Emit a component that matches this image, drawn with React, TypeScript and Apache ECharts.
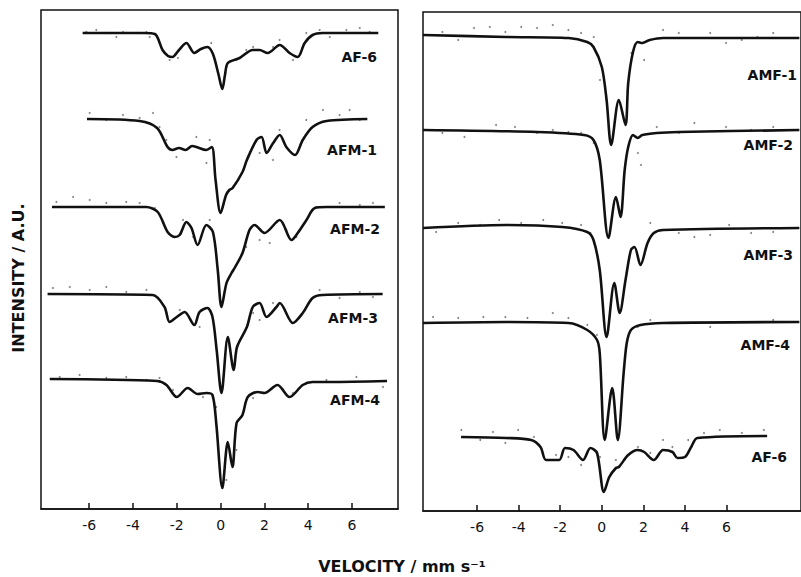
import React, { useEffect, useRef } from "react";
import * as echarts from "echarts";

// Velocity ticks (mm/s)
const tickValues = [-6, -4, -2, 0, 2, 4, 6];

// Left panel fitted spectra: [velocity (mm/s), intensity (A.U.)]
const leftAF6: number[][] = [
  [-6.3, 476], [-3.5, 476], [-3.0, 475], [-2.65, 459], [-2.4, 453], [-2.2, 452], [-1.9, 459],
  [-1.56, 466], [-1.2, 456], [-0.9, 460], [-0.6, 462], [-0.35, 455], [-0.1, 435], [0.08, 420],
  [0.2, 434], [0.33, 446], [0.87, 451], [1.47, 459], [1.78, 459], [2.15, 456], [2.7, 464],
  [3.15, 456], [3.52, 452], [3.84, 466], [4.2, 474], [4.66, 476], [7.2, 476],
];
const leftAFM1: number[][] = [
  [-6.1, 390], [-3.7, 388], [-2.9, 381], [-2.42, 362], [-2.2, 359], [-1.9, 361], [-1.6, 359],
  [-1.3, 363], [-1.1, 362], [-0.65, 359], [-0.4, 362], [-0.23, 329], [0.0, 296], [0.25, 314],
  [0.4, 319], [0.55, 321], [1.0, 337], [1.2, 349], [1.64, 369], [1.87, 372], [2.1, 356],
  [2.4, 366], [2.7, 374], [3.0, 362], [3.4, 354], [3.75, 369], [4.2, 382], [4.84, 388], [6.7, 390],
];
const leftAFM2: number[][] = [
  [-7.7, 302], [-3.4, 302], [-2.87, 297], [-2.42, 277], [-2.1, 272], [-1.87, 274], [-1.56, 287],
  [-1.33, 281], [-1.05, 264], [-0.65, 284], [-0.35, 277], [-0.13, 239], [0.04, 202], [0.27, 226],
  [0.5, 236], [0.64, 241], [1.0, 256], [1.32, 279], [1.55, 284], [2.0, 276], [2.7, 289],
  [3.24, 269], [3.52, 276], [3.92, 289], [4.3, 301], [4.84, 302], [7.5, 302],
];
const leftAFM3: number[][] = [
  [-7.9, 215], [-3.1, 214], [-2.56, 202], [-2.33, 187], [-2.0, 192], [-1.64, 197], [-1.2, 184],
  [-0.96, 197], [-0.6, 201], [-0.37, 192], [-0.18, 159], [0.04, 116], [0.33, 172], [0.6, 139],
  [0.75, 162], [1.2, 182], [1.47, 202], [1.78, 206], [2.1, 192], [2.55, 202], [2.7, 206],
  [3.3, 186], [3.75, 196], [4.2, 211], [4.66, 214], [7.4, 215],
];
const leftAFM4: number[][] = [
  [-7.8, 130], [-2.9, 128], [-2.47, 124], [-2.0, 112], [-1.5, 121], [-1.05, 115], [-0.65, 116],
  [-0.37, 114], [-0.2, 86], [0.08, 21], [0.33, 67], [0.54, 42], [0.73, 86], [1.0, 94],
  [1.24, 112], [1.7, 117], [2.0, 116], [2.6, 124], [3.15, 112], [3.75, 124], [4.2, 127],
  [4.97, 127], [7.6, 128],
];

// Right panel fitted spectra
const rightAMF1: number[][] = [
  [-8.6, 476], [-4.6, 474], [-1.6, 473], [-0.7, 469], [-0.4, 464], [0.0, 444], [0.23, 411],
  [0.45, 366], [0.82, 411], [1.14, 386], [1.27, 428], [1.5, 459], [1.73, 469], [1.95, 468],
  [2.3, 471], [2.95, 473], [9.5, 473],
];
const rightAMF2: number[][] = [
  [-8.6, 381], [-3.1, 379], [-0.86, 376], [-0.4, 371], [-0.1, 351], [0.32, 273], [0.68, 314],
  [0.9, 294], [1.1, 341], [1.27, 364], [1.5, 376], [1.73, 373], [1.95, 376], [2.64, 378],
  [3.7, 379], [9.5, 381],
];
const rightAMF3: number[][] = [
  [-8.6, 283], [-4.6, 286], [-1.9, 284], [-0.7, 279], [-0.4, 271], [-0.1, 241], [0.23, 174],
  [0.6, 228], [0.86, 198], [1.14, 231], [1.4, 261], [1.57, 264], [1.86, 246], [2.2, 268],
  [2.5, 278], [2.95, 281], [9.5, 283],
];
const rightAMF4: number[][] = [
  [-8.6, 188], [-4.6, 189], [-1.6, 188], [-0.7, 181], [-0.23, 171], [-0.1, 158], [0.14, 71],
  [0.5, 123], [0.77, 71], [1.05, 138], [1.2, 168], [1.4, 181], [1.86, 186], [2.95, 188],
  [9.5, 189],
];
const rightAF6: number[][] = [
  [-6.77, 74], [-4.6, 73], [-3.4, 71], [-2.95, 64], [-2.68, 51], [-2.05, 51], [-1.77, 63],
  [-1.36, 61], [-0.9, 51], [-0.55, 63], [-0.23, 58], [0.1, 19], [0.36, 34], [0.68, 43],
  [0.82, 44], [1.27, 56], [1.73, 61], [2.04, 59], [2.5, 51], [2.95, 61], [3.4, 59], [3.64, 53],
  [4.0, 54], [4.3, 64], [4.6, 73], [7.95, 75],
];

const dotsLeftAF6: number[][] = [
  [-6.13, 477], [-5.68, 479], [-5.22, 476], [-4.76, 472], [-4.46, 477], [-3.85, 476], [-3.39, 477],
  [-3.24, 472], [-2.79, 466], [-2.33, 449], [-1.95, 451], [-1.42, 462], [-0.43, 466], [0.26, 442],
  [0.72, 449], [1.17, 459], [1.48, 462], [2.39, 462], [2.69, 469], [3.3, 449], [3.91, 476],
  [4.52, 479], [4.98, 472], [5.74, 479], [6.35, 481], [6.8, 477],
];
const dotsLeftAFM1: number[][] = [
  [-5.98, 396], [-5.22, 389], [-4.46, 394], [-3.7, 391], [-3.09, 396], [-2.79, 382], [-2.48, 369],
  [-2.02, 352], [-1.11, 372], [-0.65, 346], [-0.5, 369], [1.78, 356], [2.39, 349], [2.69, 379],
  [3.91, 389], [4.67, 399], [5.43, 394], [5.89, 399], [6.35, 389],
];
const dotsLeftAFM2: number[][] = [
  [-7.5, 307], [-6.74, 312], [-5.98, 309], [-5.22, 306], [-4.31, 307], [-3.7, 306], [-3.01, 301],
  [-2.63, 286], [-1.72, 289], [-1.26, 272], [-0.5, 289], [0.56, 239], [1.17, 262], [1.78, 269],
  [2.24, 266], [3.0, 279], [3.46, 272], [4.37, 302], [5.43, 306], [6.35, 304], [6.95, 306],
];
const dotsLeftAFM3: number[][] = [
  [-7.66, 221], [-6.89, 222], [-5.98, 219], [-5.22, 222], [-4.31, 217], [-3.39, 219], [-2.86, 211],
  [-1.87, 199], [-0.96, 182], [1.48, 196], [1.78, 189], [2.39, 206], [3.61, 192], [4.52, 219],
  [5.43, 211], [6.35, 217], [6.95, 212],
];
const dotsLeftAFM4: number[][] = [
  [-7.35, 132], [-6.44, 134], [-5.22, 131], [-4.31, 132], [-3.39, 129], [-2.79, 131], [-2.18, 119],
  [-0.81, 112], [-0.2, 102], [0.26, 29], [0.72, 59], [1.48, 111], [2.39, 122], [3.3, 116],
  [3.91, 126], [4.83, 129], [6.2, 132], [7.41, 122],
];
const dotsRightAMF1: number[][] = [
  [-7.67, 479], [-6.91, 471], [-6.15, 483], [-5.39, 484], [-4.64, 479], [-3.88, 484], [-3.12, 483],
  [-2.36, 486], [-1.61, 481], [-1.0, 478], [-0.39, 474], [-0.09, 431], [1.42, 458], [2.03, 451],
  [2.94, 481], [3.7, 478], [5.21, 478], [5.97, 468], [6.73, 471], [7.48, 474], [8.24, 478],
];
const dotsRightAMF2: number[][] = [
  [-7.67, 378], [-6.61, 374], [-5.09, 386], [-4.18, 384], [-3.12, 378], [-2.36, 381], [-1.61, 379],
  [-1.0, 378], [-0.39, 368], [1.73, 358], [1.88, 346], [2.64, 384], [3.7, 378], [4.45, 388],
  [5.97, 384], [7.18, 381], [8.24, 384],
];
const dotsRightAMF3: number[][] = [
  [-7.97, 279], [-6.91, 288], [-5.85, 286], [-4.94, 291], [-3.88, 288], [-2.82, 291], [-1.91, 288],
  [-1.0, 286], [-0.55, 278], [2.33, 288], [2.94, 281], [3.7, 278], [4.45, 274], [5.21, 276],
  [6.12, 286], [7.18, 278], [8.24, 279],
];
const dotsRightAMF4: number[][] = [
  [-8.12, 194], [-6.91, 193], [-5.7, 194], [-4.64, 194], [-3.58, 193], [-2.36, 198], [-1.61, 193],
  [-0.7, 186], [-0.24, 176], [1.73, 184], [2.33, 191], [3.7, 188], [5.21, 184], [6.73, 189],
  [8.24, 191],
];
const dotsRightAF6: number[][] = [
  [-6.76, 81], [-5.85, 71], [-5.24, 79], [-4.64, 68], [-4.03, 81], [-3.27, 74], [-2.82, 58],
  [-2.21, 56], [-1.61, 54], [-1.0, 46], [-0.09, 54], [0.67, 51], [1.73, 64], [2.33, 58],
  [2.94, 71], [3.39, 64], [4.15, 71], [4.91, 78], [5.67, 81], [6.73, 78], [7.79, 81],
];

const leftNames = ["AF-6", "AFM-1", "AFM-2", "AFM-3", "AFM-4"];
const rightNames = ["AMF-1", "AMF-2", "AMF-3", "AMF-4", "AF-6"];

export default function App() {
  const ref = useRef<HTMLDivElement>(null);
  useEffect(() => {
    if (!ref.current) return;
    const chart = echarts.init(ref.current, null, { renderer: "svg" });
    const font = "DejaVu Sans";
    const xAxisBase = (idx: number, min: number, max: number) => ({
      type: "value" as const,
      gridIndex: idx,
      min,
      max,
      splitLine: { show: false },
      axisLine: { show: true, lineStyle: { color: "#111", width: 1.5 } },
      axisTick: {
        show: true,
        inside: true,
        length: 6,
        customValues: tickValues,
        lineStyle: { color: "#111", width: 1.5 },
      },
      axisLabel: {
        show: true,
        customValues: tickValues,
        margin: 9,
        color: "#111",
        fontFamily: font,
        fontSize: 14,
        formatter: (v: number) => (v < 0 ? "-" + Math.abs(v) : String(v)),
      },
    });
    const yAxisBase = (idx: number) => ({
      type: "value" as const,
      gridIndex: idx,
      min: 0,
      max: 499,
      show: false,
    });
    const lineSeries = (data: number[][], idx: number) => ({
      type: "line" as const,
      xAxisIndex: idx,
      yAxisIndex: idx,
      data,
      showSymbol: false,
      smooth: 0.3,
      lineStyle: { color: "#111", width: 2.6 },
      silent: true,
      z: 3,
    });
    const dotSeries = (data: number[][], idx: number) => ({
      type: "scatter" as const,
      xAxisIndex: idx,
      yAxisIndex: idx,
      data,
      symbolSize: 2,
      itemStyle: { color: "#666" },
      silent: true,
      z: 2,
    });
    const leftLabelPos = [
      [377, 57], [377, 150], [380, 229], [378, 318], [380, 400],
    ];
    const rightLabelPos = [
      [797, 75], [793, 145], [793, 255], [790, 345], [787, 457],
    ];
    const labelText = (name: string, p: number[]) => ({
      type: "text" as const,
      x: p[0],
      y: p[1],
      style: {
        text: name,
        fill: "#111",
        font: `bold 14px "${font}"`,
        textAlign: "right",
        textVerticalAlign: "middle",
      },
    });
    chart.setOption({
      animation: false,
      backgroundColor: "#fff",
      grid: [
        { left: 41, top: 10, width: 357, height: 499, show: true, borderColor: "#111", borderWidth: 1.5 },
        { left: 423, top: 12, width: 400, height: 499, show: true, borderColor: "#111", borderWidth: 1.5 },
      ],
      xAxis: [xAxisBase(0, -8.2, 8.1), xAxisBase(1, -8.6, 9.58)],
      yAxis: [yAxisBase(0), yAxisBase(1)],
      series: [
        dotSeries(dotsLeftAF6, 0),
        dotSeries(dotsLeftAFM1, 0),
        dotSeries(dotsLeftAFM2, 0),
        dotSeries(dotsLeftAFM3, 0),
        dotSeries(dotsLeftAFM4, 0),
        dotSeries(dotsRightAMF1, 1),
        dotSeries(dotsRightAMF2, 1),
        dotSeries(dotsRightAMF3, 1),
        dotSeries(dotsRightAMF4, 1),
        dotSeries(dotsRightAF6, 1),
        lineSeries(leftAF6, 0),
        lineSeries(leftAFM1, 0),
        lineSeries(leftAFM2, 0),
        lineSeries(leftAFM3, 0),
        lineSeries(leftAFM4, 0),
        lineSeries(rightAMF1, 1),
        lineSeries(rightAMF2, 1),
        lineSeries(rightAMF3, 1),
        lineSeries(rightAMF4, 1),
        lineSeries(rightAF6, 1),
      ],
      graphic: [
        ...leftNames.map((n, i) => labelText(n, leftLabelPos[i])),
        ...rightNames.map((n, i) => labelText(n, rightLabelPos[i])),
        {
          type: "text",
          x: 18,
          y: 278,
          rotation: Math.PI / 2,
          style: {
            text: "INTENSITY / A.U.",
            fill: "#111",
            font: `bold 16px "${font}"`,
            textAlign: "center",
            textVerticalAlign: "middle",
          },
        },
        {
          type: "text",
          x: 402,
          y: 566,
          style: {
            text: "VELOCITY / mm s⁻¹",
            fill: "#111",
            font: `bold 16px "${font}"`,
            textAlign: "center",
            textVerticalAlign: "middle",
          },
        },
      ],
    });
    return () => chart.dispose();
  }, []);
  return (
    <div
      ref={ref}
      style={{ position: "fixed", left: 0, top: 0, width: 801, height: 577, background: "#fff" }}
    />
  );
}
